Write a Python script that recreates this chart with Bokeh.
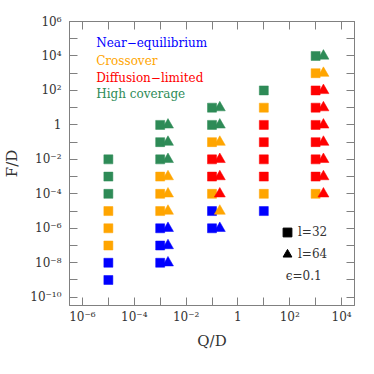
from bokeh.plotting import figure
from bokeh.models import Range1d, FixedTicker, LogAxis, Label, Legend, LegendItem, ColumnDataSource
from bokeh.embed import file_html
from bokeh.resources import INLINE

regimes = ["Near\u2212equilibrium", "Crossover", "Diffusion\u2212limited", "High coverage"]
regime_colors = ["#0000FF", "#FFA500", "#FF0000", "#2E8B57"]

# l = 32 (squares): Q/D, F/D, regime index (0 near-eq, 1 crossover, 2 diffusion-limited, 3 high coverage)
l32_Q = [1e-5, 1e-5, 1e-5, 1e-5, 1e-5, 1e-5, 1e-5, 1e-5,
         1e-3, 1e-3, 1e-3, 1e-3, 1e-3, 1e-3, 1e-3, 1e-3, 1e-3,
         1e-1, 1e-1, 1e-1, 1e-1, 1e-1, 1e-1, 1e-1, 1e-1,
         1e1, 1e1, 1e1, 1e1, 1e1, 1e1, 1e1, 1e1,
         1e3, 1e3, 1e3, 1e3, 1e3, 1e3, 1e3, 1e3, 1e3]
l32_F = [1e-9, 1e-8, 1e-7, 1e-6, 1e-5, 1e-4, 1e-3, 1e-2,
         1e-8, 1e-7, 1e-6, 1e-5, 1e-4, 1e-3, 1e-2, 1e-1, 1e0,
         1e-6, 1e-5, 1e-4, 1e-3, 1e-2, 1e-1, 1e0, 1e1,
         1e-5, 1e-4, 1e-3, 1e-2, 1e-1, 1e0, 1e1, 1e2,
         1e-4, 1e-3, 1e-2, 1e-1, 1e0, 1e1, 1e2, 1e3, 1e4]
l32_regime = [0, 0, 1, 1, 1, 3, 3, 3,
              0, 0, 0, 1, 1, 1, 3, 3, 3,
              0, 0, 1, 2, 2, 1, 3, 3,
              0, 1, 2, 2, 2, 2, 1, 3,
              1, 2, 2, 2, 2, 2, 2, 1, 3]

# l = 64 (triangles)
l64_Q = [2e-3, 2e-3, 2e-3, 2e-3, 2e-3, 2e-3, 2e-3, 2e-3, 2e-3,
         2e-1, 2e-1, 2e-1, 2e-1, 2e-1, 2e-1, 2e-1, 2e-1,
         2e3, 2e3, 2e3, 2e3, 2e3, 2e3, 2e3, 2e3, 2e3]
l64_F = [1e-8, 1e-7, 1e-6, 1e-5, 1e-4, 1e-3, 1e-2, 1e-1, 1e0,
         1e-6, 1e-5, 1e-4, 1e-3, 1e-2, 1e-1, 1e0, 1e1,
         1e-4, 1e-3, 1e-2, 1e-1, 1e0, 1e1, 1e2, 1e3, 1e4]
l64_regime = [0, 0, 0, 1, 1, 1, 3, 3, 3,
              0, 1, 2, 2, 2, 1, 3, 3,
              2, 2, 2, 2, 2, 2, 2, 1, 3]

x_ticks = [1e-6, 1e-5, 1e-4, 1e-3, 1e-2, 1e-1, 1e0, 1e1, 1e2, 1e3, 1e4]
x_tick_labels = ["10\u207b\u2076", "", "10\u207b\u2074", "", "10\u207b\u00b2", "", "1", "", "10\u00b2", "", "10\u2074"]
y_ticks = [1e-10, 1e-9, 1e-8, 1e-7, 1e-6, 1e-5, 1e-4, 1e-3, 1e-2, 1e-1, 1e0,
           1e1, 1e2, 1e3, 1e4, 1e5, 1e6]
y_tick_labels = ["10\u207b\u00b9\u2070", "", "10\u207b\u2078", "", "10\u207b\u2076", "", "10\u207b\u2074", "",
                 "10\u207b\u00b2", "", "1", "", "10\u00b2", "", "10\u2074", "", "10\u2076"]

FONT = "DejaVu Serif"
AX = "#808080"
TXT = "#333333"

p = figure(width=370, height=370, x_axis_type="log", y_axis_type="log",
           x_range=Range1d(10 ** -6.5, 10 ** 4.5), y_range=Range1d(10 ** -10.48, 10 ** 6),
           output_backend="svg", toolbar_location=None,
           min_border_left=69, min_border_right=16, min_border_top=21, min_border_bottom=65)
p.xgrid.visible = False
p.ygrid.visible = False
p.outline_line_color = AX
p.background_fill_color = "white"
p.border_fill_color = "white"

def style_axis(ax, ticks, labels, show_labels):
    ax.ticker = FixedTicker(ticks=ticks, minor_ticks=[])
    ax.axis_line_color = AX
    ax.major_tick_line_color = AX
    ax.major_tick_in = 8
    ax.major_tick_out = 0
    ax.minor_tick_line_color = None
    ax.major_label_text_font = FONT
    ax.major_label_text_color = TXT
    if show_labels:
        ax.major_label_overrides = {t: l for t, l in zip(ticks, labels)}
        ax.major_label_text_font_size = "12px"
    else:
        ax.major_label_overrides = {t: "" for t in ticks}
        ax.major_label_text_font_size = "1px"
        ax.major_label_standoff = 0

style_axis(p.xaxis[0], x_ticks, x_tick_labels, True)
style_axis(p.yaxis[0], y_ticks, y_tick_labels, True)
p.xaxis[0].major_label_standoff = 4
p.yaxis[0].major_label_standoff = 8
p.yaxis[0].major_label_orientation = "horizontal"
p.xaxis[0].axis_label = "Q/D"
p.yaxis[0].axis_label = "F/D"
for ax in (p.xaxis[0], p.yaxis[0]):
    ax.axis_label_text_font = FONT
    ax.axis_label_text_font_size = "15px"
    ax.axis_label_text_font_style = "normal"
    ax.axis_label_text_color = TXT
p.xaxis[0].axis_label_standoff = 5
p.yaxis[0].axis_label_standoff = 6

top = LogAxis()
right = LogAxis()
style_axis(top, x_ticks, x_tick_labels, False)
style_axis(right, y_ticks, y_tick_labels, False)
p.add_layout(top, "above")
p.add_layout(right, "right")

src32 = ColumnDataSource(dict(Q=l32_Q, F=l32_F, c=[regime_colors[r] for r in l32_regime]))
src64 = ColumnDataSource(dict(Q=l64_Q, F=l64_F, c=[regime_colors[r] for r in l64_regime]))
p.scatter("Q", "F", source=src32, marker="square", size=9, fill_color="c", line_color="c", line_width=0.5)
p.scatter("Q", "F", source=src64, marker="triangle", size=11, fill_color="c", line_color="c", line_width=0.5)

# regime legend (coloured text)
reg_y = [10 ** 4.73, 10 ** 3.68, 10 ** 2.75, 10 ** 1.79]
for name, col, yy in zip(regimes, regime_colors, reg_y):
    p.add_layout(Label(x=10 ** -5.47, y=yy, text=name, text_color=col, text_font=FONT,
                       text_font_size="12px", text_baseline="middle", text_align="left"))

# size legend (keys drawn from hidden black copies of the two series)
k32 = p.scatter("Q", "F", source=src32, marker="square", color="black", visible=False)
k64 = p.scatter("Q", "F", source=src64, marker="triangle", color="black", visible=False)
leg = Legend(items=[LegendItem(label="l=32", renderers=[k32]), LegendItem(label="l=64", renderers=[k64])],
             location=(207, 40), glyph_width=22, glyph_height=22, label_standoff=0, spacing=-3,
             padding=0, margin=0, border_line_color=None, background_fill_alpha=0,
             label_text_font=FONT, label_text_font_size="12px", label_text_color=TXT,
             label_height=14)
p.add_layout(leg, "center")

p.add_layout(Label(x=10 ** 1.85, y=10 ** -8.78, text="\u03f5=0.1", text_font=FONT, text_font_size="12px",
                   text_color=TXT, text_baseline="middle", text_align="left"))

open("out.html", "w").write(file_html(p, INLINE))
